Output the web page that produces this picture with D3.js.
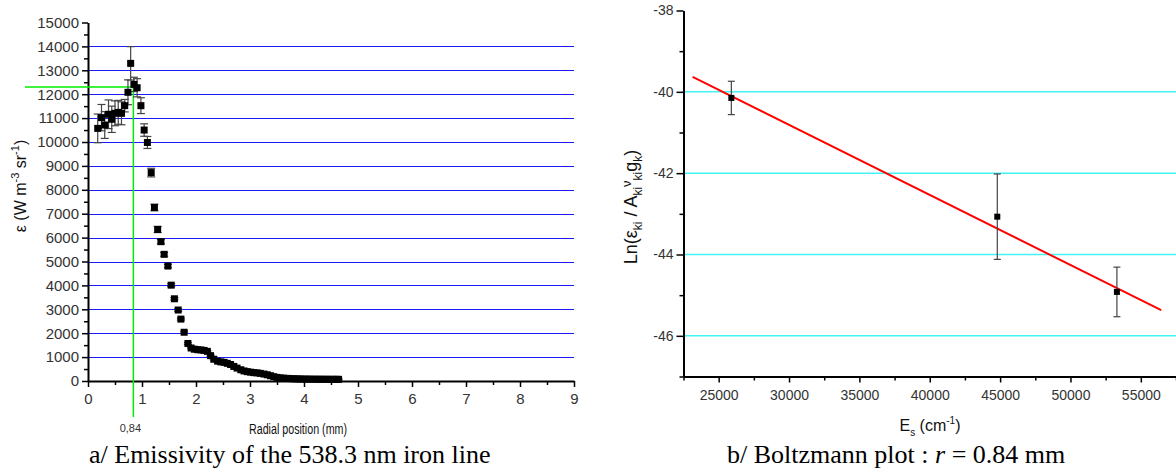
<!DOCTYPE html>
<html>
<head>
<meta charset="utf-8">
<script src="https://cdn.jsdelivr.net/npm/d3@7"></script>
<style>
  html, body { margin: 0; padding: 0; background: #fff; }
  svg { display: block; }
  text { font-family: "Liberation Sans", Arial, sans-serif; }
  text.serif { font-family: "Liberation Serif", "Times New Roman", serif; }
</style>
</head>
<body>
<svg id="chart" width="1176" height="472"></svg>
<script>
// ---------- Data: panel a (emissivity vs radial position) ----------
const radialPos = [0.18,0.25,0.31,0.38,0.44,0.50,0.56,0.62,0.68,0.74,0.79,0.85,0.91,0.98,1.04,1.10,1.17,1.23,1.29,1.35,1.41,1.48,1.54,1.60,1.67,1.72,1.78,1.85,1.91,1.97,2.03,2.09,2.15,2.21,2.27,2.33,2.40,2.46,2.52,2.58,2.64,2.70,2.76,2.83,2.89,2.95,3.01,3.07,3.13,3.19,3.26,3.32,3.38,3.44,3.50,3.56,3.62,3.69,3.75,3.81,3.87,3.93,3.99,4.05,4.11,4.18,4.24,4.30,4.36,4.42,4.48,4.54,4.60,4.64];
const emissivity = [10570,11020,10710,11160,10950,11200,11240,11200,11520,12080,13290,12410,12270,11520,10500,9980,8720,7260,6340,5830,5300,4810,4010,3440,2970,2590,2040,1570,1380,1330,1310,1300,1280,1240,1060,910,830,800,780,740,690,610,540,470,420,390,370,350,340,320,290,260,220,180,150,130,120,110,100,95,90,85,80,80,78,76,75,74,73,72,72,71,71,70];
const emissErr  = [600,550,560,600,550,520,500,480,260,520,700,300,380,330,260,250,180,140,130,90,80,70,60,50,50,40,40,40,30,30,30,30,30,30,30,30,20,20,20,20,20,20,20,20,20,20,20,20,20,20,20,20,20,20,20,20,20,20,20,20,20,20,20,20,20,20,20,20,20,20,20,20,20,20];
const xTicksA = [0,1,2,3,4,5,6,7,8,9];
const yTicksA = [0,1000,2000,3000,4000,5000,6000,7000,8000,9000,10000,11000,12000,13000,14000,15000];
const gridA = [1000,2000,3000,4000,5000,6000,7000,8000,9000,10000,11000,12000,13000,14000];
const markR = [0.84];      // marked radial position (mm)
const markEps = [12300];   // emissivity at that position

// ---------- Data: panel b (Boltzmann plot) ----------
const upperEnergy = [25900, 44800, 53300];
const lnValue     = [-40.15, -43.07, -44.92];
const lnErr       = [0.41, 1.05, 0.61];
const fitEnergy   = [23150, 56450];
const fitLn       = [-39.63, -45.37];
const xTicksB = [25000,30000,35000,40000,45000,50000,55000];
const yTicksB = [-38,-40,-42,-44,-46];
const gridB = [-40,-42,-44,-46];

const svg = d3.select("#chart");

// ================= Panel a =================
const xA = d3.scaleLinear().domain([0, 9]).range([88, 574]);
const yA = d3.scaleLinear().domain([0, 15000]).range([381, 22.5]);

const gA = svg.append("g");
gA.selectAll("line.grid").data(gridA).enter().append("line")
  .attr("x1", xA(0)).attr("x2", xA(9))
  .attr("y1", d => Math.round(yA(d)) + 0.5).attr("y2", d => Math.round(yA(d)) + 0.5)
  .attr("stroke", "#1a1aff").attr("stroke-width", 1);

// minor ticks
gA.append("g").attr("transform", `translate(${xA(0)},0)`)
  .call(d3.axisLeft(yA).tickValues(d3.range(500, 15000, 1000)).tickSize(4).tickFormat(""))
  .call(g => g.select(".domain").remove())
  .call(g => g.selectAll("line").attr("stroke-width", 1.5));
gA.append("g").attr("transform", `translate(0,${yA(0)})`)
  .call(d3.axisBottom(xA).tickValues(d3.range(0.5, 9, 1)).tickSize(4).tickFormat(""))
  .call(g => g.select(".domain").remove())
  .call(g => g.selectAll("line").attr("stroke-width", 1.5));

// major axes
const axYA = gA.append("g").attr("transform", `translate(${xA(0)},0)`)
  .call(d3.axisLeft(yA).tickValues(yTicksA).tickSize(6).tickSizeOuter(0).tickPadding(3).tickFormat(d3.format("d")));
const axXA = gA.append("g").attr("transform", `translate(0,${yA(0)})`)
  .call(d3.axisBottom(xA).tickValues(xTicksA).tickSize(6).tickSizeOuter(0).tickPadding(6).tickFormat(d3.format("d")));
[axYA, axXA].forEach(a => {
  a.select(".domain").attr("stroke-width", 2);
  a.selectAll(".tick line").attr("stroke-width", 1.5);
  a.selectAll(".tick text").attr("font-size", 15).attr("fill", "#333");
});

// green marker lines
gA.append("line")
  .attr("x1", xA(markR[0])).attr("x2", xA(markR[0]))
  .attr("y1", yA(markEps[0])).attr("y2", 417)
  .attr("stroke", "#00ee00").attr("stroke-width", 1.5);
gA.append("line")
  .attr("x1", 25).attr("x2", xA(markR[0]))
  .attr("y1", yA(markEps[0])).attr("y2", yA(markEps[0]))
  .attr("stroke", "#00ee00").attr("stroke-width", 1.5);
gA.append("text").attr("x", xA(markR[0]) - 3).attr("y", 432)
  .attr("text-anchor", "middle").attr("font-size", 11).attr("fill", "#333")
  .text(markR[0].toString().replace(".", ","));

// error bars
const ptsA = radialPos.map((r, i) => ({ r, v: emissivity[i], e: emissErr[i] }));
const eb = gA.append("g").attr("stroke", "#444").attr("stroke-width", 1.2);
ptsA.forEach(p => {
  const x = xA(p.r);
  eb.append("line").attr("x1", x).attr("x2", x).attr("y1", yA(p.v + p.e)).attr("y2", yA(p.v - p.e));
  eb.append("line").attr("x1", x - 4).attr("x2", x + 4).attr("y1", yA(p.v + p.e)).attr("y2", yA(p.v + p.e));
  eb.append("line").attr("x1", x - 4).attr("x2", x + 4).attr("y1", yA(p.v - p.e)).attr("y2", yA(p.v - p.e));
});
gA.selectAll("rect.pt").data(ptsA).enter().append("rect")
  .attr("x", d => xA(d.r) - 3.5).attr("y", d => yA(d.v) - 3.5)
  .attr("width", 7).attr("height", 7).attr("fill", "#000");

// labels
const yLabA = gA.append("text")
  .attr("transform", `translate(26,186) rotate(-90)`)
  .attr("text-anchor", "middle").attr("font-size", 16).attr("fill", "#111");
yLabA.append("tspan").text("ε (W m");
yLabA.append("tspan").attr("dy", -7).attr("font-size", 11).text("-3");
yLabA.append("tspan").attr("dy", 7).text(" sr");
yLabA.append("tspan").attr("dy", -7).attr("font-size", 11).text("-1");
yLabA.append("tspan").attr("dy", 7).text(")");

gA.append("text").attr("x", 298).attr("y", 434)
  .attr("text-anchor", "middle").attr("font-size", 14).attr("fill", "#111")
  .attr("textLength", 98).attr("lengthAdjust", "spacingAndGlyphs")
  .text("Radial position (mm)");

svg.append("text").attr("class", "serif").attr("x", 89).attr("y", 463)
  .attr("font-size", 26).attr("fill", "#000")
  .text("a/ Emissivity of the 538.3 nm iron line");

// ================= Panel b =================
const xB = d3.scaleLinear().domain([22500, 57500]).range([683.5, 1176]);
const yB = d3.scaleLinear().domain([-47, -38]).range([376.5, 10.5]);

const gB = svg.append("g");
gB.selectAll("line.grid").data(gridB).enter().append("line")
  .attr("x1", xB(22500)).attr("x2", 1176)
  .attr("y1", d => yB(d)).attr("y2", d => yB(d))
  .attr("stroke", "#44f4f4").attr("stroke-width", 1.5);

gB.append("g").attr("transform", `translate(${xB(22500)},0)`)
  .call(d3.axisLeft(yB).tickValues([-39,-41,-43,-45,-47]).tickSize(4).tickFormat(""))
  .call(g => g.select(".domain").remove())
  .call(g => g.selectAll("line").attr("stroke-width", 1.5));
gB.append("g").attr("transform", `translate(0,${yB(-47)})`)
  .call(d3.axisBottom(xB).tickValues([22500,27500,32500,37500,42500,47500,52500,57500]).tickSize(4).tickFormat(""))
  .call(g => g.select(".domain").remove())
  .call(g => g.selectAll("line").attr("stroke-width", 1.5));

const axYB = gB.append("g").attr("transform", `translate(${xB(22500)},0)`)
  .call(d3.axisLeft(yB).tickValues(yTicksB).tickSize(7).tickSizeOuter(0).tickPadding(3).tickFormat(d3.format("d")));
const axXB = gB.append("g").attr("transform", `translate(0,${yB(-47)})`)
  .call(d3.axisBottom(xB).tickValues(xTicksB).tickSize(6).tickSizeOuter(0).tickPadding(8).tickFormat(d3.format("d")));
[axYB, axXB].forEach(a => {
  a.select(".domain").attr("stroke-width", 2);
  a.selectAll(".tick line").attr("stroke-width", 1.5);
  a.selectAll(".tick text").attr("font-size", 14).attr("fill", "#333");
});
axYB.selectAll(".tick text").text(d => "-" + Math.abs(d));

// fit line
gB.append("line")
  .attr("x1", xB(fitEnergy[0])).attr("y1", yB(fitLn[0]))
  .attr("x2", xB(fitEnergy[1])).attr("y2", yB(fitLn[1]))
  .attr("stroke", "#ff0000").attr("stroke-width", 2);

const ptsB = upperEnergy.map((e, i) => ({ e, v: lnValue[i], er: lnErr[i] }));
const ebB = gB.append("g").attr("stroke", "#444").attr("stroke-width", 1.2);
ptsB.forEach(p => {
  const x = xB(p.e);
  ebB.append("line").attr("x1", x).attr("x2", x).attr("y1", yB(p.v + p.er)).attr("y2", yB(p.v - p.er));
  ebB.append("line").attr("x1", x - 3.5).attr("x2", x + 3.5).attr("y1", yB(p.v + p.er)).attr("y2", yB(p.v + p.er));
  ebB.append("line").attr("x1", x - 3.5).attr("x2", x + 3.5).attr("y1", yB(p.v - p.er)).attr("y2", yB(p.v - p.er));
});
gB.selectAll("rect.pt").data(ptsB).enter().append("rect")
  .attr("x", d => xB(d.e) - 3).attr("y", d => yB(d.v) - 3)
  .attr("width", 6).attr("height", 6).attr("fill", "#000");

// labels
const yLabB = gB.append("text")
  .attr("transform", `translate(637,207) rotate(-90)`)
  .attr("text-anchor", "middle").attr("font-size", 18).attr("fill", "#111");
yLabB.append("tspan").text("Ln(ε");
yLabB.append("tspan").attr("dy", 5).attr("font-size", 12).text("ki");
yLabB.append("tspan").attr("dy", -5).text(" / A");
yLabB.append("tspan").attr("dy", 5).attr("font-size", 12).text("ki");
yLabB.append("tspan").attr("dy", -11).attr("font-size", 13).text("ν");
yLabB.append("tspan").attr("dy", 11).attr("font-size", 12).text("ki");
yLabB.append("tspan").attr("dy", -5).text("g");
yLabB.append("tspan").attr("dy", 5).attr("font-size", 12).text("k");
yLabB.append("tspan").attr("dy", -5).text(")");

const xLabB = gB.append("text").attr("x", 930).attr("y", 431)
  .attr("text-anchor", "middle").attr("font-size", 16).attr("fill", "#111");
xLabB.append("tspan").text("E");
xLabB.append("tspan").attr("dy", 5).attr("font-size", 10).text("s");
xLabB.append("tspan").attr("dy", -5).text(" (cm");
xLabB.append("tspan").attr("dy", -7).attr("font-size", 10).text("-1");
xLabB.append("tspan").attr("dy", 7).text(")");

const capB = svg.append("text").attr("class", "serif").attr("x", 727).attr("y", 463)
  .attr("font-size", 26).attr("fill", "#000");
capB.append("tspan").text("b/ Boltzmann plot : ");
capB.append("tspan").attr("font-style", "italic").text("r");
capB.append("tspan").text(" = 0.84 mm");
</script>
</body>
</html>
